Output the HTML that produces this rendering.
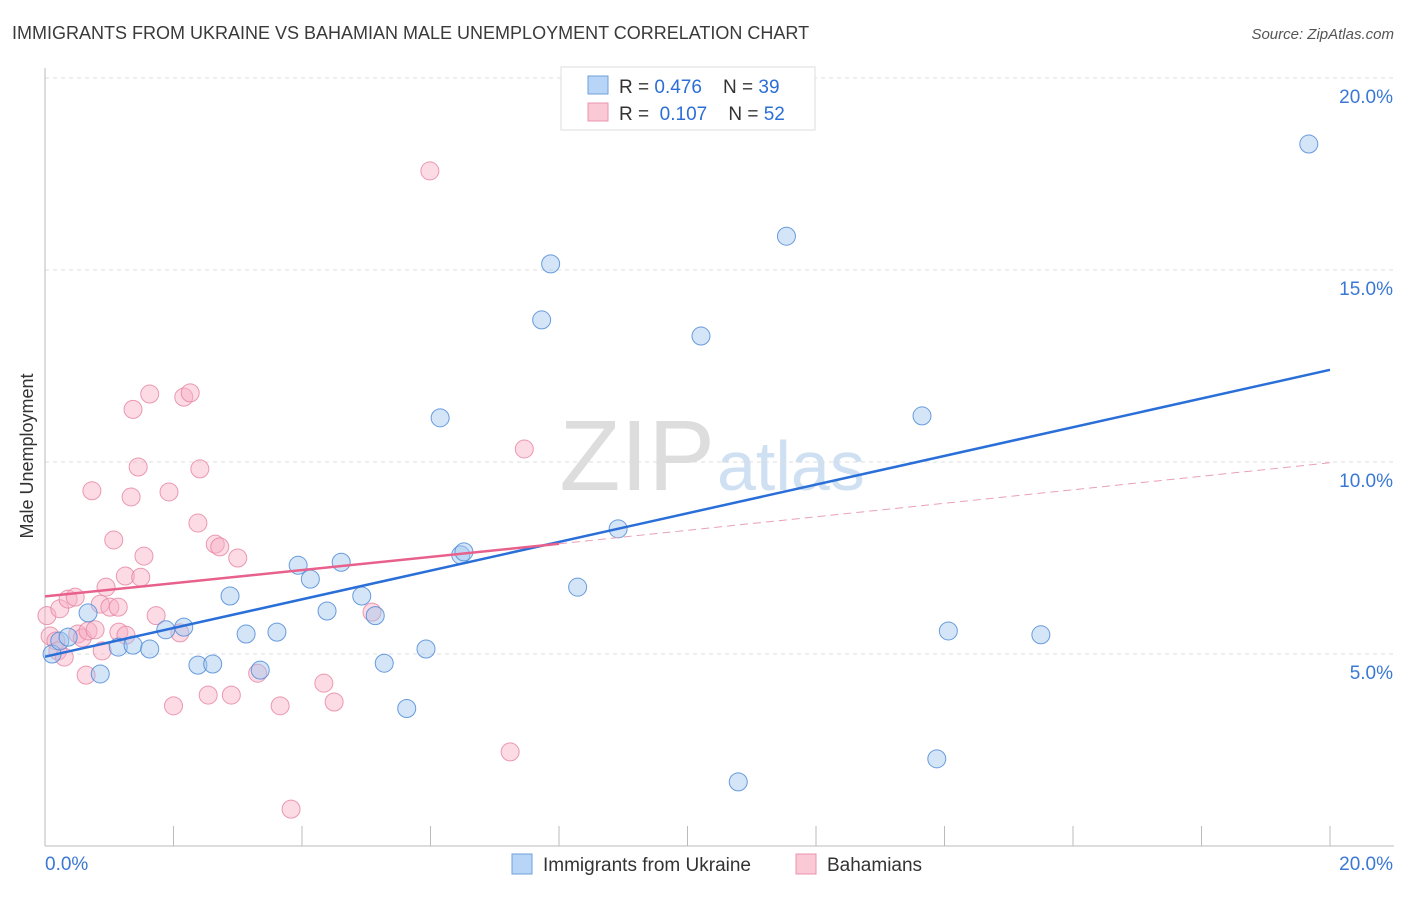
<!DOCTYPE html>
<html><head><meta charset="utf-8"><style>
body{margin:0;background:#fff;font-family:"Liberation Sans",sans-serif;}
svg text{font-family:"Liberation Sans",sans-serif;}
</style></head><body>
<svg width="1406" height="892" xmlns="http://www.w3.org/2000/svg">
<text x="12" y="39" font-size="18" fill="#3a3a3a">IMMIGRANTS FROM UKRAINE VS BAHAMIAN MALE UNEMPLOYMENT CORRELATION CHART</text>
<text x="1394" y="39" font-size="15" fill="#555" text-anchor="end" font-style="italic">Source: ZipAtlas.com</text>
<text x="33" y="456" font-size="18" fill="#333" text-anchor="middle" transform="rotate(-90 33 456)">Male Unemployment</text>
<text x="715" y="490" font-size="100" fill="#ddd" text-anchor="end" font-family="Liberation Serif">ZIP</text>
<text x="717" y="490" font-size="70" fill="#cfe0f3">atlas</text>
<g id="grid"></g><g id="axes"></g><g id="marks"></g>
<g>
<rect x="561" y="67" width="254" height="63" fill="#fff" stroke="#ddd"/>
<rect x="588" y="76" width="20" height="18" fill="#b8d4f6" stroke="#6f9fd8"/>
<rect x="588" y="103" width="20" height="18" fill="#fbc8d6" stroke="#e995ae"/>
<text x="619" y="93" font-size="19" fill="#333">R = <tspan fill="#2b6fd6">0.476</tspan>&#160;&#160;&#160;&#160;N = <tspan fill="#2b6fd6">39</tspan></text>
<text x="619" y="120" font-size="19" fill="#333">R = &#160;<tspan fill="#2b6fd6">0.107</tspan>&#160;&#160;&#160;&#160;N = <tspan fill="#2b6fd6">52</tspan></text>
</g>
<g>
<rect x="512" y="854" width="20" height="20" fill="#b8d4f6" stroke="#6f9fd8"/>
<text x="543" y="871" font-size="19" fill="#333">Immigrants from Ukraine</text>
<rect x="796" y="854" width="20" height="20" fill="#fbc8d6" stroke="#e995ae"/>
<text x="827" y="871" font-size="19" fill="#333">Bahamians</text>
</g>
</svg>
<script>
const yTicks=[5,10,15,20];
const xTickLabels=["0.0%","20.0%"];
const blueX=[0.11,0.23,0.36,0.67,0.86,1.14,1.37,1.63,1.88,2.16,2.38,2.61,2.88,3.13,3.35,3.61,3.94,4.13,4.39,4.61,4.93,5.14,5.28,5.63,5.93,6.15,6.47,6.52,7.73,7.87,8.29,8.92,10.21,10.79,11.54,13.65,13.88,14.06,15.5,19.67];
const blueY=[5.0,5.34,5.44,6.07,4.48,5.18,5.23,5.13,5.63,5.7,4.71,4.74,6.51,5.52,4.58,5.57,7.31,6.95,6.12,7.39,6.51,6.0,4.76,3.58,5.13,11.15,7.58,7.66,13.7,15.16,6.74,8.26,13.28,1.67,15.88,11.2,2.27,5.6,5.5,18.28];
const pinkX=[0.03,0.08,0.17,0.2,0.3,0.23,0.36,0.47,0.51,0.58,0.64,0.67,0.73,0.78,0.86,0.89,0.95,1.01,1.07,1.14,1.15,1.25,1.26,1.34,1.37,1.45,1.49,1.54,1.63,1.73,1.93,2.0,2.1,2.16,2.26,2.38,2.41,2.54,2.65,2.72,2.9,3.0,3.31,3.66,3.83,4.34,4.5,5.09,5.99,7.24,7.46];
const pinkY=[6.0,5.47,5.34,5.08,4.92,6.18,6.43,6.48,5.52,5.42,4.45,5.6,9.25,5.63,6.3,5.08,6.74,6.22,7.97,6.22,5.57,7.03,5.49,9.09,11.37,9.87,7.0,7.55,11.77,6.0,9.22,3.65,5.55,11.69,11.8,8.41,9.82,3.93,7.86,7.79,3.93,7.5,4.5,3.65,0.96,4.24,3.75,6.09,17.58,2.45,10.34];
const blueLine=[0,4.93,20,12.4];
const pinkLine=[0,6.5,8,7.87,20,9.98];
const X=v=>45+v/20*1285, Y=v=>846-v/20*768;
const NS="http://www.w3.org/2000/svg";
function mk(t,a,p){const e=document.createElementNS(NS,t);for(const k in a)e.setAttribute(k,a[k]);p.appendChild(e);return e;}
const grid=document.getElementById('grid'),axes=document.getElementById('axes'),marks=document.getElementById('marks');
yTicks.forEach(t=>{
 const l=mk('line',{x1:45,x2:1394,y1:Y(t),y2:Y(t),stroke:'#ddd','stroke-dasharray':'4,4'},grid);
 
 
 const tx=mk('text',{x:1393,y:Y(t)+25,'font-size':19,fill:'#3a78d4','text-anchor':'end'},axes);
 tx.textContent=t.toFixed(1)+'%';
 
 
});
const ax=mk('line',{x1:45,x2:1394,y1:846,y2:846,stroke:'#bbb'},axes);


const ay=mk('line',{x1:45,x2:45,y1:68,y2:846,stroke:'#bbb'},axes);


for(let i=0;i<=10;i++){const t=mk('line',{x1:X(i*2),x2:X(i*2),y1:826,y2:846,stroke:'#bbb'},axes);
 
 }
const xl0=mk('text',{x:45,y:870,'font-size':19,fill:'#3a78d4'},axes);xl0.textContent=xTickLabels[0];


const xl1=mk('text',{x:1393,y:870,'font-size':19,fill:'#3a78d4','text-anchor':'end'},axes);xl1.textContent=xTickLabels[1];


pinkX.forEach((v,i)=>{const c=mk('circle',{cx:X(v),cy:Y(pinkY[i]),r:9,fill:'rgba(248,175,197,0.45)',stroke:'rgba(230,130,160,0.8)','stroke-width':1},marks);
 
 });
blueX.forEach((v,i)=>{const c=mk('circle',{cx:X(v),cy:Y(blueY[i]),r:9,fill:'rgba(160,198,240,0.45)',stroke:'rgba(80,140,215,0.85)','stroke-width':1},marks);
 
 });
const bl=mk('line',{x1:X(blueLine[0]),y1:Y(blueLine[1]),x2:X(blueLine[2]),y2:Y(blueLine[3]),stroke:'#2a6fd8','stroke-width':2.5},marks);


const pl=mk('line',{x1:X(pinkLine[0]),y1:Y(pinkLine[1]),x2:X(pinkLine[2]),y2:Y(pinkLine[3]),stroke:'#e8608c','stroke-width':2.5},marks);


const pd=mk('line',{x1:X(pinkLine[2]),y1:Y(pinkLine[3]),x2:X(pinkLine[4]),y2:Y(pinkLine[5]),stroke:'#e8a0b8','stroke-width':1,'stroke-dasharray':'8,5'},marks);


</script>
</body></html>
